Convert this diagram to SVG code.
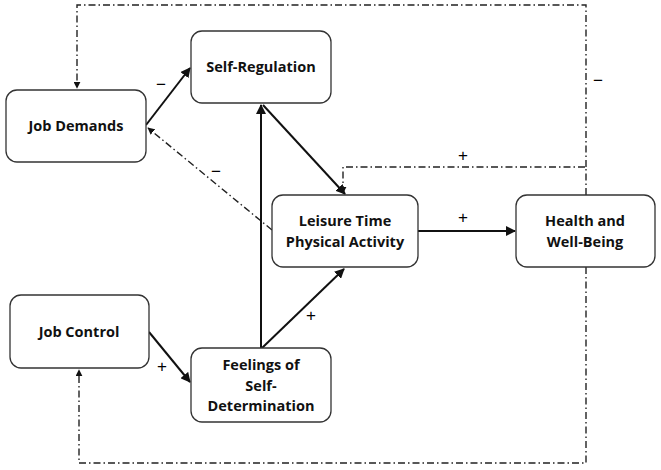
<svg xmlns="http://www.w3.org/2000/svg" width="661" height="470" viewBox="0 0 661 470">
<style>
.box{fill:#fff;stroke:#333;stroke-width:1.3}
.t{font-family:"Open Sans","Liberation Sans",sans-serif;font-weight:bold;font-size:14.5px;fill:#111;text-anchor:middle}
.s{fill:none;stroke:#111;stroke-width:2}
.d{fill:none;stroke:#222;stroke-width:1.4;stroke-dasharray:7 3 1.5 3}
.l{font-family:"Liberation Sans",sans-serif;font-size:17px;fill:#000;text-anchor:middle}
</style>
<defs>
<marker id="a" viewBox="0 0 10 10" refX="9" refY="5" markerWidth="5" markerHeight="5" orient="auto" markerUnits="strokeWidth"><path d="M0,0L10,5L0,10z" fill="#111"/></marker>
<marker id="ad" viewBox="0 0 10 10" refX="9" refY="5" markerWidth="5" markerHeight="5" orient="auto" markerUnits="strokeWidth"><path d="M0,0L10,5L0,10z" fill="#111"/></marker>
</defs>
<g id="connectors">
<line class="s" x1="146" y1="125" x2="190" y2="68" marker-end="url(#a)"/>
<line class="d" x1="272" y1="230" x2="148" y2="128" marker-end="url(#ad)"/>
<line class="s" x1="261" y1="348" x2="261" y2="105" marker-end="url(#a)"/>
<line class="s" x1="263" y1="105" x2="345" y2="194" marker-end="url(#a)"/>
<line class="s" x1="262" y1="348" x2="344" y2="269" marker-end="url(#a)"/>
<line class="s" x1="149" y1="332" x2="190" y2="382" marker-end="url(#a)"/>
<line class="s" x1="418" y1="231" x2="515" y2="231" marker-end="url(#a)"/>
<polyline class="d" points="586,195 586,167 343,167 343,193" marker-end="url(#ad)"/>
<polyline class="d" points="586,167 586,5 77,5 77,88" marker-end="url(#ad)"/>
<polyline class="d" points="586,267 586,463 79,463 79,370" marker-end="url(#ad)"/>
<text class="l" x="161" y="90">−</text>
<text class="l" x="216" y="177">−</text>
<text class="l" x="311" y="321">+</text>
<text class="l" x="162" y="372">+</text>
<text class="l" x="463" y="223">+</text>
<text class="l" x="463" y="161">+</text>
<text class="l" x="598" y="86">−</text>
</g>
<g id="job-demands"><rect class="box" x="6" y="90" width="140" height="72" rx="11"/><text class="t" x="76" y="131">Job Demands</text></g>
<g id="self-regulation"><rect class="box" x="191" y="31" width="140" height="72" rx="11"/><text class="t" x="261" y="72">Self-Regulation</text></g>
<g id="leisure"><rect class="box" x="272" y="195" width="146" height="72" rx="11"/><text class="t" x="345" y="226">Leisure Time</text><text class="t" x="345" y="247">Physical Activity</text></g>
<g id="health"><rect class="box" x="516" y="195" width="139" height="72" rx="11"/><text class="t" x="585" y="226">Health and</text><text class="t" x="585" y="247">Well-Being</text></g>
<g id="job-control"><rect class="box" x="10" y="295" width="139" height="73" rx="11"/><text class="t" x="79" y="337">Job Control</text></g>
<g id="feelings"><rect class="box" x="191" y="348" width="140" height="74" rx="11"/><text class="t" x="261" y="370">Feelings of</text><text class="t" x="261" y="391">Self-</text><text class="t" x="261" y="411">Determination</text></g>
</svg>
